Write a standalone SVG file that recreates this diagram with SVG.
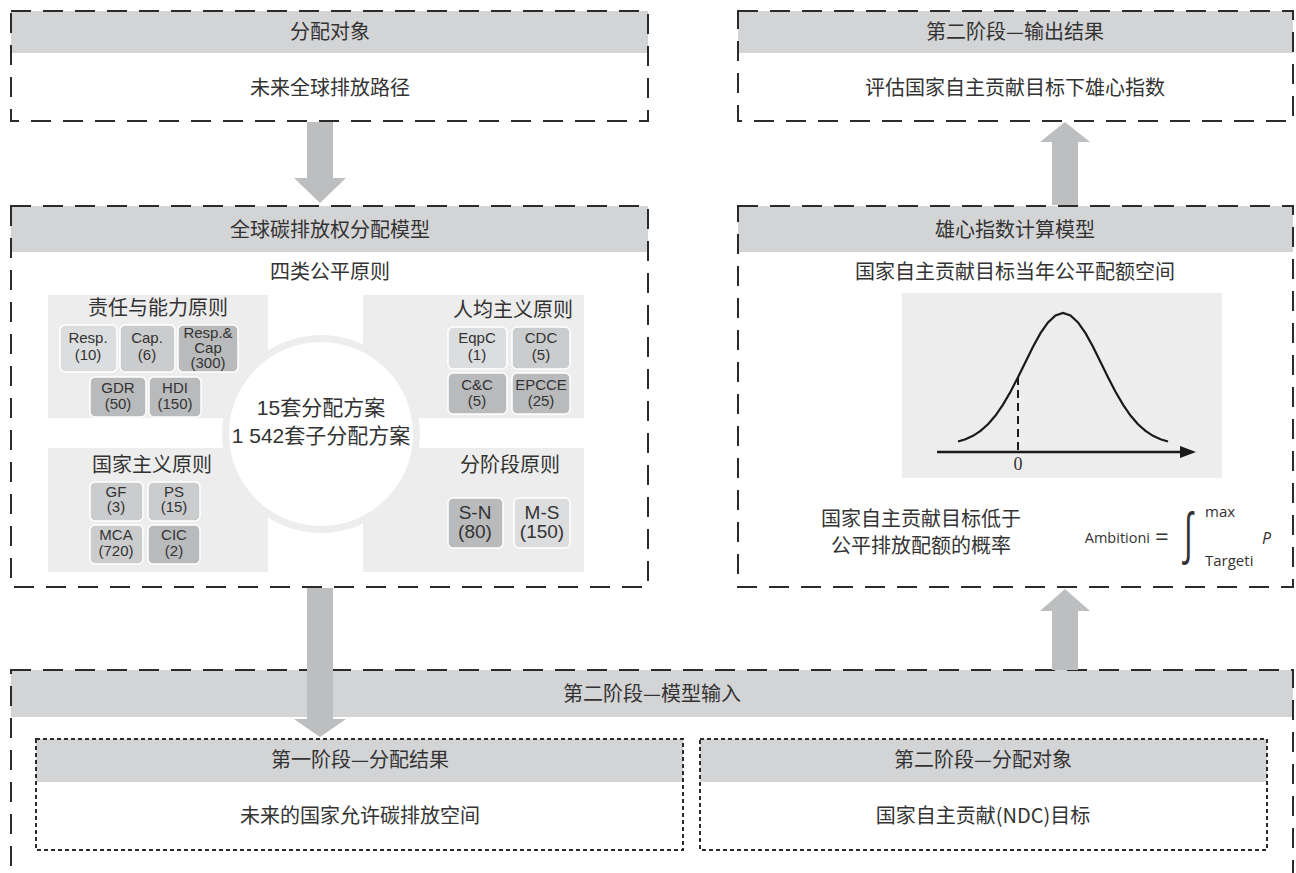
<svg xmlns="http://www.w3.org/2000/svg" width="1296" height="873" viewBox="0 0 1296 873">
<style>
.bg{fill:#ffffff}
.band{fill:#d3d4d6}
.outer{fill:none;stroke:#2b2b2b;stroke-width:2;stroke-dasharray:20 12}
.inner{fill:none;stroke:#2b2b2b;stroke-width:2;stroke-dasharray:4 3}
.cj{font-family:"Noto Sans CJK SC","Noto Sans",sans-serif;font-size:20px;fill:#333;text-anchor:middle}
.ct{font-family:"Liberation Sans","Noto Sans CJK SC",sans-serif;font-size:21px;fill:#333;text-anchor:middle}
.panel{fill:#ededed}
.sb{stroke:#ffffff;stroke-width:1.5}
.l{fill:#dcdddf}
.m{fill:#cbcccd}
.d{fill:#b9babc}
.st{font-family:"Liberation Sans",Arial,sans-serif;font-size:15px;fill:#333;text-anchor:middle}
.sl{font-family:"Liberation Sans",Arial,sans-serif;font-size:19px;fill:#333;text-anchor:middle}
.arrow{fill:#bdbec0}
.fm{font-family:"Open Sans","Noto Sans",sans-serif;fill:#333}
</style>
<rect class="bg" x="0" y="0" width="1296" height="873"/>

<g id="box-fenpei-duixiang">
<rect class="band" x="11" y="11" width="637" height="42"/>
<rect class="outer" x="11" y="11" width="637" height="110"/>
<text class="cj" x="330" y="39">分配对象</text>
<text class="cj" x="330" y="95">未来全球排放路径</text>
</g>

<g id="box-output">
<rect class="band" x="738" y="11" width="555" height="42"/>
<rect class="outer" x="738" y="11" width="555" height="110"/>
<text class="cj" x="1015" y="39">第二阶段—输出结果</text>
<text class="cj" x="1015" y="95">评估国家自主贡献目标下雄心指数</text>
</g>

<g id="box-allocation-model">
<rect class="band" x="11" y="206" width="637" height="46"/>
<rect class="outer" x="11" y="206" width="637" height="381"/>
<text class="cj" x="330" y="237">全球碳排放权分配模型</text>
<text class="cj" x="330" y="279">四类公平原则</text>
<rect class="panel" x="48" y="295" width="220" height="123"/>
<rect class="panel" x="363" y="295" width="221" height="123"/>
<rect class="panel" x="48" y="448" width="220" height="124"/>
<rect class="panel" x="363" y="448" width="221" height="124"/>
<circle class="panel" cx="321" cy="434" r="99"/>
<circle fill="#ffffff" cx="321" cy="434" r="92"/>
<text class="ct" x="321" y="415">15套分配方案</text>
<text class="ct" x="321" y="443">1 542套子分配方案</text>
</g>

<g id="group-resp-cap">
<text class="cj" x="158" y="315">责任与能力原则</text>
<rect class="sb l" x="60" y="325" width="57" height="47" rx="5"/>
<text class="st" x="88" y="343">Resp.</text><text class="st" x="88" y="360">(10)</text>
<rect class="sb m" x="120" y="325" width="55" height="47" rx="5"/>
<text class="st" x="147" y="343">Cap.</text><text class="st" x="147" y="360">(6)</text>
<rect class="sb d" x="178" y="325" width="60" height="47" rx="5"/>
<text class="st" x="208" y="338">Resp.&amp;</text><text class="st" x="208" y="353">Cap</text><text class="st" x="208" y="368">(300)</text>
<rect class="sb d" x="90" y="377" width="56" height="40" rx="5"/>
<text class="st" x="118" y="393">GDR</text><text class="st" x="118" y="409">(50)</text>
<rect class="sb d" x="149" y="377" width="52" height="40" rx="5"/>
<text class="st" x="175" y="393">HDI</text><text class="st" x="175" y="409">(150)</text>
</g>

<g id="group-per-capita">
<text class="cj" x="513" y="317">人均主义原则</text>
<rect class="sb l" x="448" y="327" width="59" height="42" rx="5"/>
<text class="st" x="477" y="343">EqpC</text><text class="st" x="477" y="360">(1)</text>
<rect class="sb m" x="512" y="327" width="58" height="42" rx="5"/>
<text class="st" x="541" y="343">CDC</text><text class="st" x="541" y="360">(5)</text>
<rect class="sb d" x="448" y="373" width="59" height="41" rx="5"/>
<text class="st" x="477" y="390">C&amp;C</text><text class="st" x="477" y="406">(5)</text>
<rect class="sb d" x="512" y="373" width="58" height="41" rx="5"/>
<text class="st" x="541" y="390">EPCCE</text><text class="st" x="541" y="406">(25)</text>
</g>

<g id="group-nationalist">
<text class="cj" x="152" y="472">国家主义原则</text>
<rect class="sb m" x="90" y="482" width="53" height="39" rx="5"/>
<text class="st" x="116" y="497">GF</text><text class="st" x="116" y="512">(3)</text>
<rect class="sb m" x="148" y="482" width="52" height="39" rx="5"/>
<text class="st" x="174" y="497">PS</text><text class="st" x="174" y="512">(15)</text>
<rect class="sb m" x="90" y="525" width="53" height="39" rx="5"/>
<text class="st" x="116" y="540">MCA</text><text class="st" x="116" y="556">(720)</text>
<rect class="sb d" x="148" y="525" width="52" height="39" rx="5"/>
<text class="st" x="174" y="540">CIC</text><text class="st" x="174" y="556">(2)</text>
</g>

<g id="group-staged">
<text class="cj" x="510" y="472">分阶段原则</text>
<rect class="sb d" x="448" y="498" width="55" height="50" rx="5"/>
<text class="sl" x="475" y="519">S-N</text><text class="sl" x="475" y="538">(80)</text>
<rect class="sb l" x="514" y="498" width="56" height="50" rx="5"/>
<text class="sl" x="542" y="519">M-S</text><text class="sl" x="542" y="538">(150)</text>
</g>

<g id="box-ambition-model">
<rect class="band" x="738" y="206" width="555" height="46"/>
<rect class="outer" x="738" y="206" width="555" height="381"/>
<text class="cj" x="1015" y="237">雄心指数计算模型</text>
<text class="cj" x="1015" y="279">国家自主贡献目标当年公平配额空间</text>
<rect class="panel" x="902" y="293" width="320" height="185"/>
<polyline fill="none" stroke="#1a1a1a" stroke-width="2.2" points="958,441.5 965.5,439.2 973,435.8 980.5,430.9 988,424.2 995.5,415.5 1003,404.6 1010.5,391.7 1018,377.2 1025.5,361.9 1033,346.8 1040.5,333.2 1048,322.4 1055.5,315.4 1063,313 1070.5,315.4 1078,322.4 1085.5,333.2 1093,346.8 1100.5,361.9 1108,377.2 1115.5,391.7 1123,404.6 1130.5,415.5 1138,424.2 1145.5,430.9 1153,435.8 1160.5,439.2 1168,441.5"/>
<line x1="1018" y1="377" x2="1018" y2="452" stroke="#1a1a1a" stroke-width="2" stroke-dasharray="8 5"/>
<line x1="937" y1="452" x2="1182" y2="452" stroke="#1a1a1a" stroke-width="2.5"/>
<polygon points="1180,446 1196,452 1180,458" fill="#1a1a1a"/>
<text x="1018" y="470" font-family="Liberation Serif,serif" font-size="18" fill="#333" text-anchor="middle">0</text>
<text class="cj" x="921" y="526" font-size="19">国家自主贡献目标低于</text>
<text class="cj" x="921" y="553" font-size="19">公平排放配额的概率</text>
<text class="fm" x="1150" y="543" font-size="14.5" text-anchor="end">Ambitioni</text>
<text class="fm" x="1155" y="545" font-size="24" font-family="DejaVu Sans,sans-serif">=</text>
<text class="fm" transform="translate(1182,552) scale(0.62,1)" font-size="54" font-family="DejaVu Sans,sans-serif">∫</text>
<text class="fm" x="1205" y="517" font-size="15">max</text>
<text class="fm" x="1205" y="566" font-size="15">Targeti</text>
<text class="fm" x="1262" y="544" font-size="16" font-style="italic">P</text>
</g>

<g id="box-model-input">
<rect class="band" x="11" y="670" width="1282" height="47"/>
<rect class="outer" x="11" y="670" width="1282" height="240"/>
<text class="cj" x="652" y="701">第二阶段—模型输入</text>
</g>

<g id="box-stage1-result">
<rect class="band" x="36" y="739" width="647" height="43"/>
<rect class="inner" x="36" y="739" width="647" height="111"/>
<text class="cj" x="360" y="767">第一阶段—分配结果</text>
<text class="cj" x="360" y="823">未来的国家允许碳排放空间</text>
</g>

<g id="box-stage2-object">
<rect class="band" x="700" y="739" width="567" height="43"/>
<rect class="inner" x="700" y="739" width="567" height="111"/>
<text class="cj" x="983" y="767">第二阶段—分配对象</text>
<text class="cj" x="983" y="823">国家自主贡献(NDC)目标</text>
</g>

<g id="connectors">
<path class="arrow" d="M307,122 H333 V178 H346 L320,203 L294,178 H307 Z"/>
<path class="arrow" d="M307,588 H333 V719 H346 L320,737 L294,719 H307 Z"/>
<path class="arrow" d="M1052,205 V142 H1040 L1065,122 L1090,142 H1078 V205 Z"/>
<path class="arrow" d="M1052,670 V611 H1040 L1065,589 L1090,611 H1078 V670 Z"/>
</g>
</svg>
